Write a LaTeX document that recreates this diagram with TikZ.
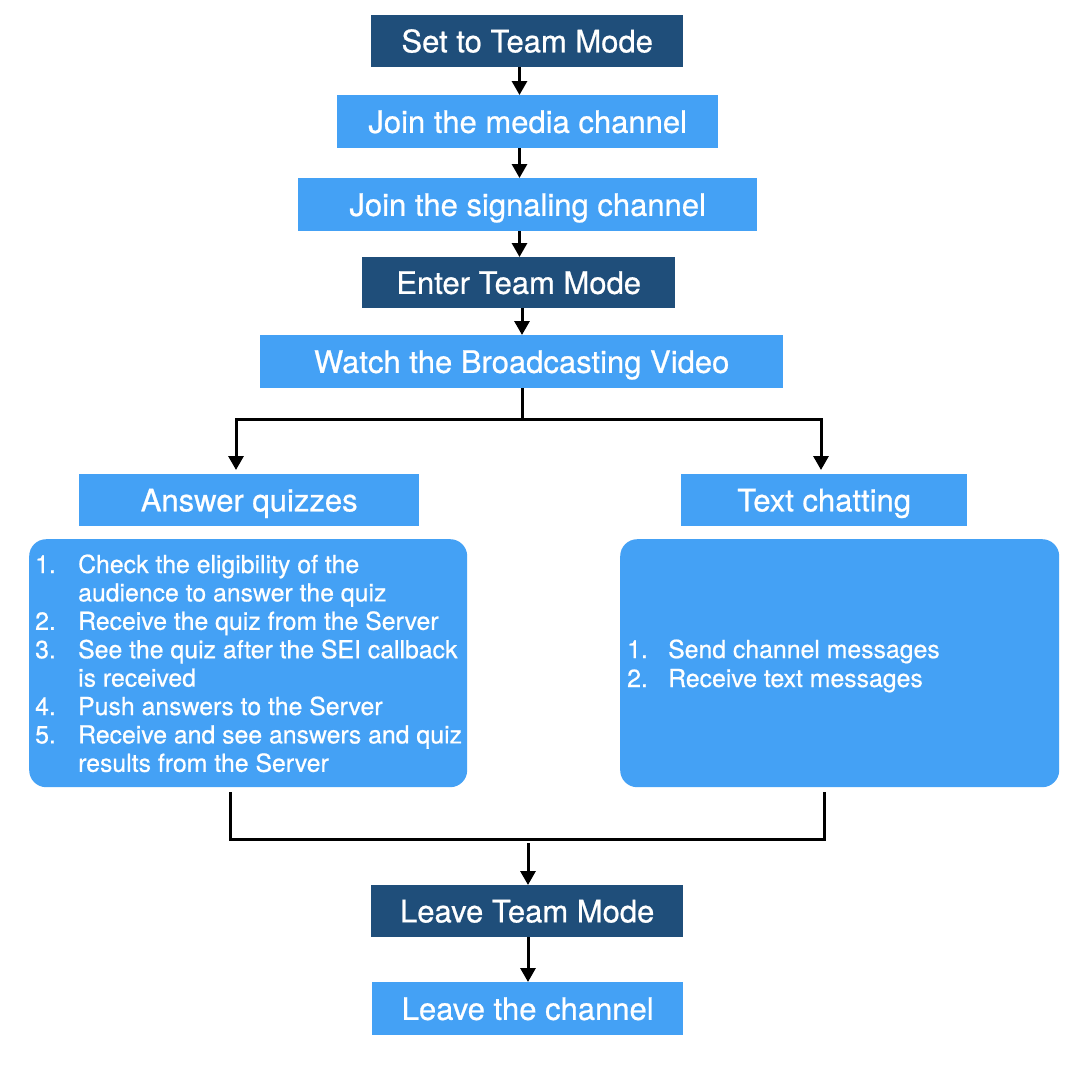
\documentclass[tikz,border=0pt]{standalone}
\usepackage{fontspec}
\setmainfont{TeX Gyre Heros}[FakeBold=0.7]
\usetikzlibrary{arrows.meta}
\definecolor{darkbox}{RGB}{31,78,122}
\definecolor{lightbox}{RGB}{68,161,245}
\begin{document}
\begin{tikzpicture}[x=1pt,y=-1pt,
  boxbase/.style={draw=none, inner sep=0pt, text=white, anchor=north west,
    font=\fontsize{31pt}{36pt}\selectfont, text height=22.3pt, text depth=0pt},
  darkstep/.style={boxbase, fill=darkbox},
  lightstep/.style={boxbase, fill=lightbox},
  listbox/.style={draw=none, fill=lightbox, rounded corners=17pt, anchor=north west, inner sep=0pt},
  listtext/.style={anchor=base west, inner sep=0pt, text=white},
  conn/.style={line width=3pt, black},
  arr/.style={conn, -{Triangle[length=14pt,width=15pt]}},
  arrboth/.style={conn, {Triangle[length=14pt,width=15pt]}-{Triangle[length=14pt,width=15pt]}}
]
\fill[white] (0,0) rectangle (1082,1066);
\useasboundingbox (0,0) rectangle (1082,1066);

\node[darkstep,  minimum width=312pt, minimum height=52pt] (n1) at (371,15)  {Set to Team Mode};
\node[lightstep, minimum width=381pt, minimum height=53pt] (n2) at (337,95)  {Join the media channel};
\node[lightstep, minimum width=459pt, minimum height=53pt] (n3) at (298,178) {Join the signaling channel};
\node[darkstep,  minimum width=313pt, minimum height=51pt] (n4) at (362,257) {Enter Team Mode};
\node[lightstep, minimum width=523pt, minimum height=53pt] (n5) at (260,335) {Watch the Broadcasting Video};

\node[lightstep, minimum width=340pt, minimum height=52pt] (qa) at (79,474)  {Answer quizzes};
\node[lightstep, minimum width=286pt, minimum height=52pt] (tc) at (681,474) {Text chatting};

\node[listbox, minimum width=438pt, minimum height=248pt] (qbox) at (29,539) {};
\node[listbox, minimum width=439pt, minimum height=248pt] (cbox) at (620,539) {};

\node[listtext, font=\fontsize{24.8pt}{28.4pt}\selectfont] (qlist) at (35,573) {%
\begin{tabular}[t]{@{}p{43pt}@{}l@{}}
1. & Check the eligibility of the\\
   & audience to answer the quiz\\
2. & Receive the quiz from the Server\\
3. & See the quiz after the SEI callback\\
   & is received\\
4. & Push answers to the Server\\
5. & Receive and see answers and quiz\\
   & results from the Server
\end{tabular}};

\node[listtext, font=\fontsize{24.8pt}{29pt}\selectfont] (clist) at (627,658) {%
\begin{tabular}[t]{@{}p{41pt}@{}l@{}}
1. & Send channel messages\\
2. & Receive text messages
\end{tabular}};

\node[darkstep,  minimum width=312pt, minimum height=52pt] (l1) at (371,885) {Leave Team Mode};
\node[lightstep, minimum width=311pt, minimum height=53pt] (l2) at (372,982) {Leave the channel};

% connector coordinates
\coordinate (c1) at (519.5,0);
\coordinate (c4) at (522,0);
\coordinate (sp) at (522,419);
\coordinate (spl) at (236,419);
\coordinate (spr) at (821,419);
\coordinate (ml) at (230,839);
\coordinate (mr) at (824,839);
\coordinate (mm) at (528,839);

\draw[arr] (n1.south -| c1) -- (n2.north -| c1);
\draw[arr] (n2.south -| c1) -- (n3.north -| c1);
\draw[arr] (n3.south -| c1) -- (n4.north -| c1);
\draw[arr] (n4.south -| c4) -- (n5.north -| c4);

\draw[conn] (n5.south -| sp) -- (sp);
\draw[arrboth, shorten <=4pt, shorten >=4pt] (qa.north -| spl) |- (spr) -- (tc.north -| spr);

\draw[conn, shorten <=5pt, shorten >=5pt] (qbox.south -| ml) |- (mr) -- (cbox.south -| mr);
\draw[arr, shorten <=4pt] (mm) -- (l1.north -| mm);
\draw[arr] (l1.south -| mm) -- (l2.north -| mm);
\end{tikzpicture}
\end{document}
